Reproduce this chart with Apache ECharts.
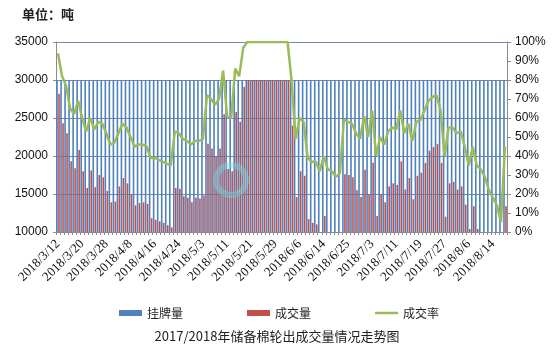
<!DOCTYPE html>
<html><head><meta charset="utf-8">
<script src="https://cdn.jsdelivr.net/npm/echarts@6/dist/echarts.min.js"></script>
<style>html,body{margin:0;padding:0;background:#fff}#c{width:554px;height:361px}</style>
</head><body><div id="c"></div>
<script>
var dates = ['2018/3/12','2018/3/13','2018/3/14','2018/3/15','2018/3/16','2018/3/19','2018/3/20','2018/3/21','2018/3/22','2018/3/23','2018/3/26','2018/3/27','2018/3/28','2018/3/29','2018/3/30','2018/4/2','2018/4/3','2018/4/4','2018/4/8','2018/4/9','2018/4/10','2018/4/11','2018/4/12','2018/4/13','2018/4/16','2018/4/17','2018/4/18','2018/4/19','2018/4/20','2018/4/23','2018/4/24','2018/4/25','2018/4/26','2018/4/27','2018/4/28','2018/5/2','2018/5/3','2018/5/4','2018/5/7','2018/5/8','2018/5/9','2018/5/10','2018/5/11','2018/5/14','2018/5/15','2018/5/16','2018/5/17','2018/5/18','2018/5/21','2018/5/22','2018/5/23','2018/5/24','2018/5/25','2018/5/28','2018/5/29','2018/5/30','2018/5/31','2018/6/1','2018/6/4','2018/6/5','2018/6/6','2018/6/7','2018/6/8','2018/6/11','2018/6/12','2018/6/13','2018/6/14','2018/6/15','2018/6/19','2018/6/20','2018/6/21','2018/6/22','2018/6/25','2018/6/26','2018/6/27','2018/6/28','2018/6/29','2018/7/2','2018/7/3','2018/7/4','2018/7/5','2018/7/6','2018/7/9','2018/7/10','2018/7/11','2018/7/12','2018/7/13','2018/7/16','2018/7/17','2018/7/18','2018/7/19','2018/7/20','2018/7/23','2018/7/24','2018/7/25','2018/7/26','2018/7/27','2018/7/30','2018/7/31','2018/8/1','2018/8/2','2018/8/3','2018/8/6','2018/8/7','2018/8/8','2018/8/9','2018/8/10','2018/8/13','2018/8/14','2018/8/15','2018/8/16','2018/8/17'];

var listed = [30000,30000,30000,30000,30000,30000,30000,30000,30000,30000,
30000,30000,30000,30000,30000,30000,30000,30000,30000,30000,
30000,30000,30000,30000,30000,30000,30000,30000,30000,30000,
30000,30000,30000,30000,30000,30000,30000,30000,30000,30000,
30000,30000,30000,30000,30000,30000,30000,30000,30000,30000,
30000,30000,30000,30000,30000,30000,30000,30000,30000,30000,
30000,30000,30000,30000,30000,30000,30000,30000,30000,30000,
30000,30000,30000,30000,30000,30000,30000,30000,30000,30000,
30000,30000,30000,30000,30000,30000,30000,30000,30000,30000,
30000,30000,30000,30000,30000,30000,30000,30000,30000,30000,
30000,30000,30000,30000,30000,30000,30000,30000,30000,30000,
30000,30000];

var dealt = [28200,24300,23000,19300,18400,20800,18000,15800,18100,15900,
17500,17200,15400,13900,14000,16000,17100,16400,15000,13500,
13800,13900,13700,11800,11600,11400,11200,10900,10600,15800,
15700,14700,14500,13900,14500,14400,14800,21600,21000,20000,
21000,25500,18300,18000,25800,24500,29100,30000,30000,30000,
30000,30000,30000,30000,30000,30000,30000,30000,24000,14600,
18000,17400,11700,11200,11000,9600,12100,9900,9600,8700,
9300,17600,17500,17200,15500,14600,18200,15000,19100,12100,
15000,13900,16000,16400,16200,19300,15600,17100,14300,17400,
17800,19100,20700,21200,21600,19100,12000,16400,16600,15600,
16000,13600,10400,13400,10400,9900,8700,6600,5400,4200,
1500,13400];

var rate = [94,82,77,65,62,69,60,53,60,54,
58,57,52,46,47,52,57,55,50,45,
46,46,45,39,39,38,37,36,35,53,
52,49,48,46,48,48,49,72,70,67,
70,85,61,60,86,82,97,100,100,100,
100,100,100,100,100,100,100,100,80,49,
60,58,39,37,37,32,40,33,32,29,
31,59,58,57,52,49,61,50,64,40,
50,46,53,55,54,64,52,57,48,58,
59,64,69,71,72,64,40,55,55,52,
53,45,35,45,35,33,29,22,18,14,
5,45];

var leftTicks = [10000, 35000, 5000];
var rightTicks = [0, 100, 10];

var chart = echarts.init(document.getElementById('c'), null, {renderer:'canvas'});
var axisGray = '#8c8c8c';
var legendText = {fontFamily:'"Noto Sans CJK SC"', fontSize: 12, color:'#222'};
chart.setOption({
  animation: false,
  backgroundColor: '#fff',
  grid: {left: 56, right: 47, top: 42, bottom: 129, containLabel: false},
  graphic: [
    {type:'text', left: 22, top: 8, style:{text:'单位：吨', font:'bold 13px "Noto Sans CJK SC"', fill:'#222'}},
    {type:'text', left: 'center', top: 330, style:{text:'2017/2018年储备棉轮出成交量情况走势图', font:'13px "Noto Sans CJK SC"', fill:'#222'}},
    {type:'ring', shape:{cx:231, cy:180, r:18, r0:12}, style:{fill:'rgba(120,215,228,0.45)'}, z: 50}
  ],
  legend: [
    {left: 114, top: 302, itemWidth: 23, itemHeight: 6, itemGap: 64, textStyle: legendText,
     data: [{name:'挂牌量', icon:'rect'}, {name:'成交量', icon:'rect'}]},
    {left: 370, top: 302, itemWidth: 23, itemHeight: 2.5, textStyle: legendText,
     data: [{name:'成交率', icon:'rect'}]}
  ],
  xAxis: {
    type: 'category', data: dates, boundaryGap: true,
    axisLine: {lineStyle:{color: axisGray}},
    axisTick: {show:true, interval:0, length:3, lineStyle:{color: axisGray}},
    axisLabel: {interval:5, rotate:45, fontFamily:'"Liberation Serif"', fontSize:13, color:'#111', margin:10}
  },
  yAxis: [
    {type:'value', min:leftTicks[0], max:leftTicks[1], interval:leftTicks[2],
     axisLine:{show:true, lineStyle:{color: axisGray}},
     axisTick:{show:true, length:3, lineStyle:{color: axisGray}},
     axisLabel:{formatter:function(v){return String(v);}, fontFamily:'"Liberation Sans"', fontSize:12, color:'#111', margin:8},
     splitLine:{show:true, lineStyle:{color:'#7587b3', width:1}}},
    {type:'value', min:rightTicks[0], max:rightTicks[1], interval:rightTicks[2], position:'right',
     axisLine:{show:true, lineStyle:{color: axisGray}},
     axisTick:{show:true, length:4, lineStyle:{color: axisGray}},
     axisLabel:{formatter:'{value}%', fontFamily:'"Liberation Sans"', fontSize:12, color:'#111', margin:8},
     splitLine:{show:false}}
  ],
  series: [
    {name:'挂牌量', type:'bar', data: listed, barWidth: 1.6, barGap:'25%', itemStyle:{color:'#4F81BD'}, clip:true},
    {name:'成交量', type:'bar', data: dealt, barWidth: 1.6, itemStyle:{color:'#C0504D'}, clip:true},
    {name:'成交率', type:'line', yAxisIndex:1, data: rate, symbol:'none', showSymbol:false,
     lineStyle:{color:'#9BBB59', width:2.5}, itemStyle:{color:'#9BBB59'}, z:5}
  ]
});
</script>
</body></html>
